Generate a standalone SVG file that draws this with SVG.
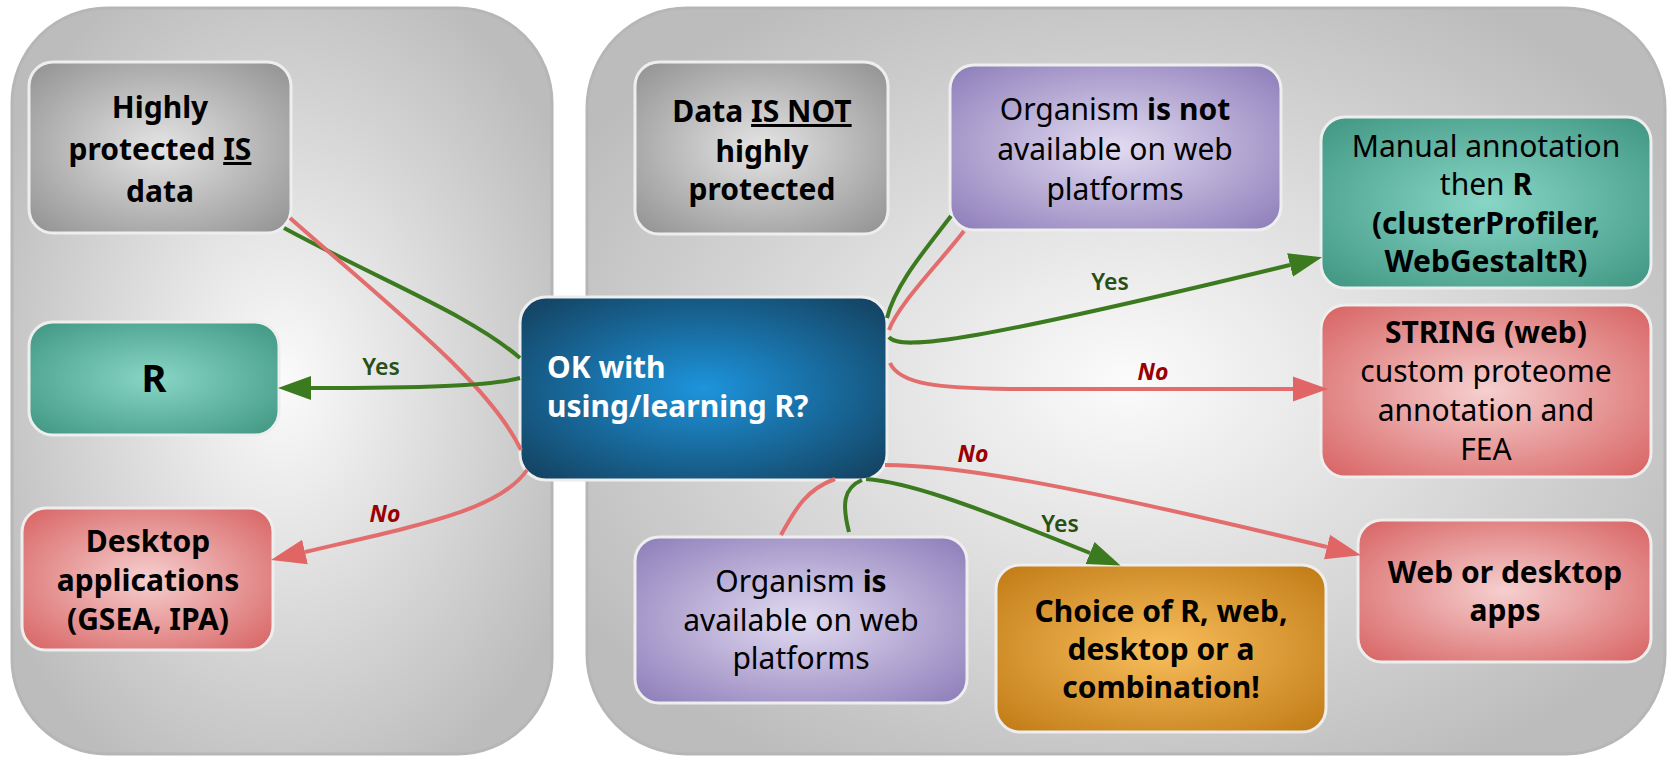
<svg xmlns="http://www.w3.org/2000/svg" width="1670" height="757" viewBox="0 0 1670 757">
<defs>
  <radialGradient id="gCont" cx="50%" cy="50%" r="60%">
    <stop offset="0" stop-color="#fbfbfb"/>
    <stop offset="1" stop-color="#bcbcbc"/>
  </radialGradient>
  <radialGradient id="gGray" cx="50%" cy="50%" r="65%">
    <stop offset="0" stop-color="#e4e4e4"/>
    <stop offset="1" stop-color="#979797"/>
  </radialGradient>
  <radialGradient id="gTeal" cx="50%" cy="50%" r="65%">
    <stop offset="0" stop-color="#88d6c6"/>
    <stop offset="1" stop-color="#449a87"/>
  </radialGradient>
  <radialGradient id="gPink" cx="50%" cy="50%" r="65%">
    <stop offset="0" stop-color="#f6cfcf"/>
    <stop offset="1" stop-color="#da6a6a"/>
  </radialGradient>
  <radialGradient id="gPurple" cx="50%" cy="50%" r="65%">
    <stop offset="0" stop-color="#e2dbf1"/>
    <stop offset="1" stop-color="#9383bd"/>
  </radialGradient>
  <radialGradient id="gOrange" cx="50%" cy="50%" r="65%">
    <stop offset="0" stop-color="#f8be5c"/>
    <stop offset="1" stop-color="#c47f1a"/>
  </radialGradient>
  <radialGradient id="gBlue" cx="50%" cy="50%" r="65%">
    <stop offset="0" stop-color="#1d94dc"/>
    <stop offset="1" stop-color="#144565"/>
  </radialGradient>
  <marker id="arG" markerUnits="userSpaceOnUse" markerWidth="34" markerHeight="26" refX="0" refY="12" orient="auto" viewBox="0 0 34 24">
    <path d="M0,0 L33,12 L0,24 Z" fill="#3b7a1e"/>
  </marker>
  <marker id="arR" markerUnits="userSpaceOnUse" markerWidth="36" markerHeight="26" refX="0" refY="12.5" orient="auto" viewBox="0 0 36 25">
    <path d="M0,0 L35,12.5 L0,25 Z" fill="#e26565"/>
  </marker>
</defs>
<style>
  .cont { fill: url(#gCont); stroke: #b6b6b6; stroke-width: 3; }
  .node { stroke: #eeeeee; stroke-width: 3; }
  .t { font-family: "Noto Sans", "Liberation Sans", sans-serif; font-size: 30px; text-anchor: middle; fill: #000000; }
  .b { font-weight: 700; }
  .w { fill: #ffffff; text-anchor: start; font-weight: 700; }
  .u { text-decoration: underline; }
  .eg { fill: none; stroke: #3b7a1e; stroke-width: 4; }
  .er { fill: none; stroke: #e36c6c; stroke-width: 4; }
  .ly { font-family: "Noto Sans", "Liberation Sans", sans-serif; font-size: 23px; font-weight: 600; fill: #284f14; text-anchor: middle; }
  .ln { font-family: "Noto Sans", "Liberation Sans", sans-serif; font-size: 23px; font-weight: 700; font-style: italic; fill: #990000; text-anchor: middle; }
</style>
<rect width="1670" height="757" fill="#ffffff"/>

<g id="container-left">
  <rect class="cont" x="12" y="8" width="540" height="746" rx="95" ry="95"/>
</g>
<g id="container-right">
  <rect class="cont" x="587" y="8" width="1078" height="746" rx="100" ry="100"/>
</g>

<g id="node-highly-protected">
  <rect class="node" x="29" y="62" width="262" height="171" rx="24" fill="url(#gGray)"/>
  <text class="t b" x="160" y="118">Highly</text>
  <text class="t b" x="160" y="160">protected <tspan class="u">IS</tspan></text>
  <text class="t b" x="160" y="202">data</text>
</g>

<g id="node-r">
  <rect class="node" x="29" y="322" width="250" height="113" rx="24" fill="url(#gTeal)"/>
  <text class="t b" x="154" y="392" style="font-size:38px">R</text>
</g>

<g id="node-desktop">
  <rect class="node" x="22" y="508" width="251" height="142" rx="24" fill="url(#gPink)"/>
  <text class="t b" x="148" y="552">Desktop</text>
  <text class="t b" x="148" y="591">applications</text>
  <text class="t b" x="148" y="630">(GSEA, IPA)</text>
</g>

<g id="node-ok-with-r">
  <rect class="node" x="520" y="297" width="367" height="183" rx="26" fill="url(#gBlue)"/>
  <text class="t w" x="547" y="378">OK with</text>
  <text class="t w" x="547" y="417">using/learning R?</text>
</g>

<g id="node-data-not-protected">
  <rect class="node" x="635" y="62" width="253" height="172" rx="24" fill="url(#gGray)"/>
  <text class="t b" x="762" y="122">Data <tspan class="u">IS NOT</tspan></text>
  <text class="t b" x="762" y="162">highly</text>
  <text class="t b" x="762" y="200">protected</text>
</g>

<g id="node-organism-not-available">
  <rect class="node" x="950" y="65" width="331" height="165" rx="24" fill="url(#gPurple)"/>
  <text class="t" x="1115" y="120">Organism <tspan class="b">is not</tspan></text>
  <text class="t" x="1115" y="160">available on web</text>
  <text class="t" x="1115" y="200">platforms</text>
</g>

<g id="node-manual-annotation">
  <rect class="node" x="1321" y="117" width="330" height="171" rx="24" fill="url(#gTeal)"/>
  <text class="t" x="1486" y="157">Manual annotation</text>
  <text class="t" x="1486" y="195">then <tspan class="b">R</tspan></text>
  <text class="t b" x="1486" y="234">(clusterProfiler,</text>
  <text class="t b" x="1486" y="272">WebGestaltR)</text>
</g>

<g id="node-string">
  <rect class="node" x="1321" y="305" width="330" height="172" rx="24" fill="url(#gPink)"/>
  <text class="t b" x="1486" y="343">STRING (web)</text>
  <text class="t" x="1486" y="382">custom proteome</text>
  <text class="t" x="1486" y="421">annotation and</text>
  <text class="t" x="1486" y="460">FEA</text>
</g>

<g id="node-web-desktop-apps">
  <rect class="node" x="1358" y="520" width="293" height="142" rx="24" fill="url(#gPink)"/>
  <text class="t b" x="1505" y="583">Web or desktop</text>
  <text class="t b" x="1505" y="621">apps</text>
</g>

<g id="node-choice">
  <rect class="node" x="996" y="565" width="330" height="167" rx="24" fill="url(#gOrange)"/>
  <text class="t b" x="1161" y="622">Choice of R, web,</text>
  <text class="t b" x="1161" y="660">desktop or a</text>
  <text class="t b" x="1161" y="698">combination!</text>
</g>

<g id="node-organism-available">
  <rect class="node" x="635" y="537" width="332" height="166" rx="24" fill="url(#gPurple)"/>
  <text class="t" x="801" y="592">Organism <tspan class="b">is</tspan></text>
  <text class="t" x="801" y="631">available on web</text>
  <text class="t" x="801" y="669">platforms</text>
</g>

<g id="connectors">
  <path class="eg" d="M 284 228 C 390 285, 470 315, 520 358"/>
  <path class="er" d="M 290 218 C 400 315, 490 385, 521 450"/>
  <path class="eg" d="M 520 378 C 490 386, 420 388, 311 388" marker-end="url(#arG)"/>
  <path class="er" d="M 527 470 C 500 510, 420 525, 305 552" marker-end="url(#arR)"/>
  <path class="eg" d="M 951 216 C 925 250, 895 285, 887 318"/>
  <path class="er" d="M 964 231 C 935 268, 898 305, 889 330"/>
  <path class="eg" d="M 889 337 C 900 352, 980 340, 1290 265" marker-end="url(#arG)"/>
  <path class="er" d="M 890 363 C 900 385, 940 388, 1010 389 L 1293 389" marker-end="url(#arR)"/>
  <path class="er" d="M 781 535 C 795 510, 805 490, 835 479"/>
  <path class="eg" d="M 849 532 C 842 505, 843 488, 862 480"/>
  <path class="eg" d="M 866 479 C 905 482, 960 500, 1090 553" marker-end="url(#arG)"/>
  <path class="er" d="M 885 465 C 950 465, 1050 480, 1327 547" marker-end="url(#arR)"/>
  <text class="ly" x="381" y="375">Yes</text>
  <text class="ln" x="385" y="522">No</text>
  <text class="ly" x="1110" y="290">Yes</text>
  <text class="ln" x="1153" y="380">No</text>
  <text class="ly" x="1060" y="532">Yes</text>
  <text class="ln" x="973" y="462">No</text>
</g>
</svg>
